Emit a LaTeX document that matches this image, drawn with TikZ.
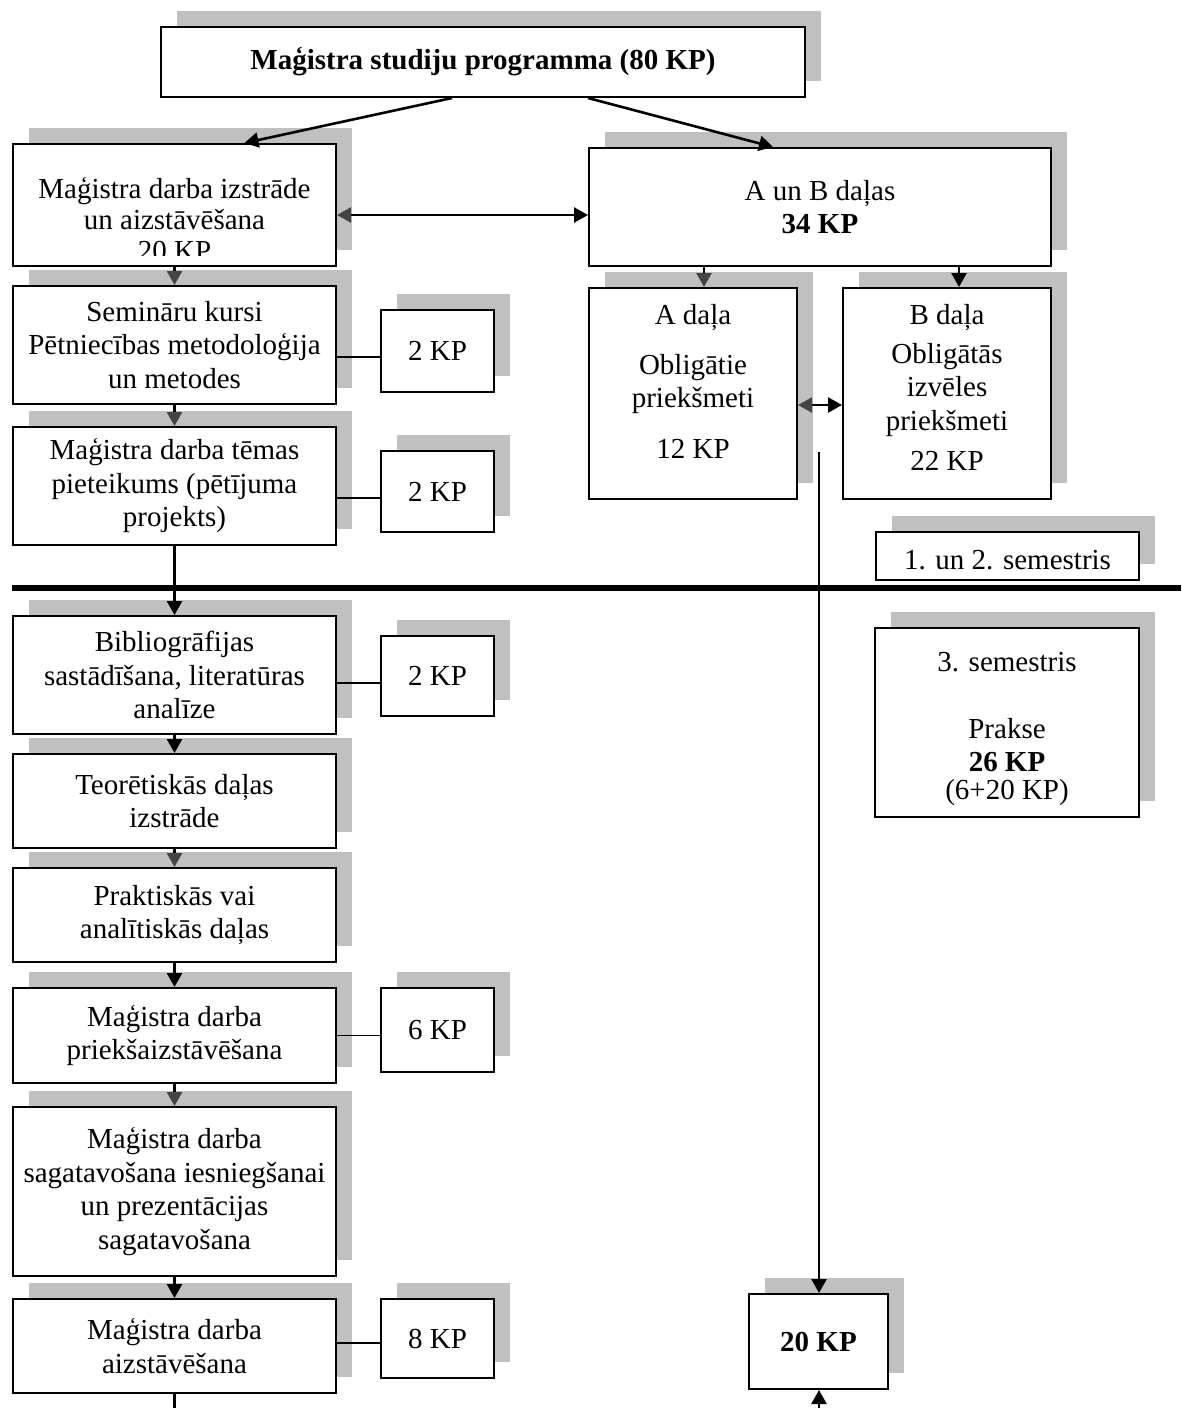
\documentclass[tikz,border=0pt]{standalone}
\usepackage{fontspec}
\setmainfont{Liberation Serif}
\usetikzlibrary{arrows.meta,shadows}
\definecolor{shadowgray}{RGB}{192,192,192}
\definecolor{headgray}{RGB}{68,68,68}
\tikzset{x=1pt, y=-1pt, % one unit is one pixel of the layout, y grows downwards
every node/.style={font=\fontsize{29}{33.5}\selectfont}, % Times-like text in every node
box/.style={draw, line width=2pt, fill=white, inner sep=0pt, align=center,
  drop shadow={shadow xshift=16pt, shadow yshift=16pt, opacity=1, fill=shadowgray}}, % framed box with the grey block behind it
col/.style={box, minimum width=323, execute at begin node={\rule{0pt}{29pt}}}, % box of the left column, text sits a little low
arr/.style={arrows={-Triangle[length=14pt,width=15pt]}, line width=2.6pt}, % black arrow
garr/.style={arrows={-Triangle[length=14pt,width=15pt,color=headgray]}, line width=2.6pt}, % arrow with a dark grey head
dbl/.style={arrows={Triangle[length=14pt,width=15pt,color=headgray]-Triangle[length=14pt,width=15pt]}, line width=2.6pt}, % two-way arrow
link/.style={line width=1.8pt}, % plain line to a credit box
}

\begin{document}
\begin{tikzpicture}
\useasboundingbox (0,0) rectangle (1181,1408);
\node[box, minimum width=644, minimum height=70] (title) at (483,62) {\textbf{Maģistra studiju programma (80 KP)}};
% left column
\node[box, minimum width=323, minimum height=122] (b1) at (174.5,205) {};
\begin{scope}
\clip (b1.north west) rectangle ([yshift=12pt]b1.south east);
\node[align=center] (b1txt) at (174.5,219) {Maģistra darba izstrāde\\[-2.5pt]un aizstāvēšana\\[-2.5pt]20 KP};
\end{scope}
\node[col, minimum height=118] (b2) at (174.5,345) {Semināru kursi\\Pētniecības metodoloģija\\un metodes};
\node[col, minimum height=118] (b3) at (174.5,486) {Maģistra darba tēmas\\pieteikums (pētījuma\\projekts)};
\node[col, minimum height=118] (b4) at (174.5,675) {Bibliogrāfijas\\sastādīšana, literatūras\\analīze};
\node[col, minimum height=94] (b5) at (174.5,801) {Teorētiskās daļas\\izstrāde};
\node[col, minimum height=94] (b6) at (174.5,915) {Praktiskās vai\\analītiskās daļas};
\node[col, minimum height=95] (b7) at (174.5,1035.5) {Maģistra darba\\priekšaizstāvēšana};
\node[col, minimum height=169] (b8) at (174.5,1191.5) {Maģistra darba\\sagatavošana iesniegšanai\\un prezentācijas\\sagatavošana};
\node[col, minimum height=94] (b9) at (174.5,1346) {Maģistra darba\\aizstāvēšana};
% credit boxes
\node[box, minimum width=113, minimum height=82] (k2) at (437.5,351) {2 KP};
\node[box, minimum width=113, minimum height=81] (k3) at (437.5,491.5) {2 KP};
\node[box, minimum width=113, minimum height=80] (k4) at (437.5,676) {2 KP};
\node[box, minimum width=113, minimum height=84] (k7) at (437.5,1030) {6 KP};
\node[box, minimum width=113, minimum height=79] (k9) at (437.5,1338.5) {8 KP};
% right side
\node[box, minimum width=462, minimum height=118] (ab) at (820,207) {A un B daļas\\\textbf{34 KP}};
\node[box, minimum width=208, minimum height=211] (pa) at (693,393.5) {A daļa\\[16.5pt]Obligātie\\priekšmeti\\[17.5pt]12 KP\\[-9pt]\mbox{}};
\node[box, minimum width=208, minimum height=211] (pb) at (947,393.5) {B daļa\\[5pt]Obligātās\\izvēles\\priekšmeti\\[6.5pt]22 KP\\[-21pt]\mbox{}};
\node[box, minimum width=263, minimum height=48, text height=26pt, text depth=0pt] (sem12) at (1007.5,556) {1. un 2. semestris};
\node[box, minimum width=264, minimum height=189] (sem3) at (1007,722.5) {\rule{0pt}{32pt}3. semestris\\[33.5pt]Prakse\\\textbf{26 KP}\\[-5.5pt](6+20 KP)};
\node[box, minimum width=139, minimum height=95] (kp20) at (818.5,1341.5) {\textbf{20 KP}};
\coordinate (cutL) at (12,588);
\coordinate (cutR) at (1181,588);
\coordinate (drop) at (819,452);
\coordinate (rise) at (819,1408);
\coordinate (endL) at (174.5,1408);
\draw[line width=6pt] (cutL) -- (cutR);
\draw[arr] ([xshift=-31pt]title.south) -- ([xshift=70pt]b1.north);
\draw[arr] ([xshift=105pt]title.south) -- ([xshift=-47pt]ab.north);
\draw[dbl] ([yshift=-10pt]b1.east) -- ([yshift=-10pt]b1.east -| ab.west);
\draw (b1.south) edge[garr] (b2.north)
(b2.south) edge[garr] (b3.north)
(b3.south) edge[arr] (b4.north)
(b4.south) edge[arr] (b5.north)
(b5.south) edge[garr] (b6.north)
(b6.south) edge[arr] (b7.north)
(b7.south) edge[garr] (b8.north)
(b8.south) edge[arr] (b9.north);
\draw[line width=2.6pt] (b9.south) -- (endL);
\draw[link] ([yshift=-12pt]b2.east) -- ([yshift=-12pt]b2.east -| k2.west);
\draw[link] ([yshift=-12pt]b3.east) -- ([yshift=-12pt]b3.east -| k3.west);
\draw[link] ([yshift=-8pt]b4.east) -- ([yshift=-8pt]b4.east -| k4.west);
\draw[link] (b7.east) -- (b7.east -| k7.west);
\draw[link] ([yshift=3pt]b9.east) -- ([yshift=3pt]b9.east -| k9.west);
\draw[garr] ([xshift=11pt]pa.north |- ab.south) -- ([xshift=11pt]pa.north);
\draw[arr] ([xshift=12pt]pb.north |- ab.south) -- ([xshift=12pt]pb.north);
\draw[dbl] ([yshift=-11.5pt]pa.east) -- ([yshift=-11.5pt]pa.east -| pb.west);
\draw[arr] (drop) -- (drop |- kp20.north);
\draw[arr] (rise) -- (rise |- kp20.south);
\end{tikzpicture}
\end{document}
